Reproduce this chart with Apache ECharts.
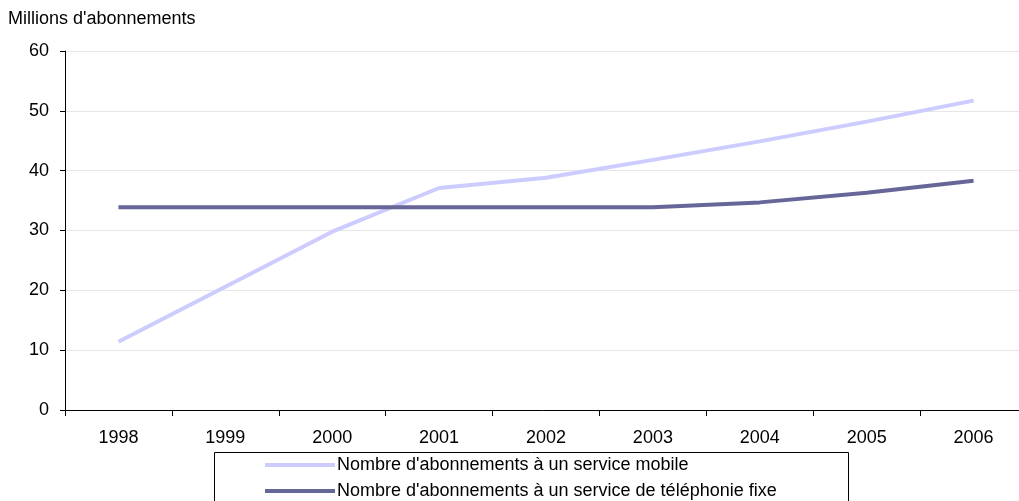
<!DOCTYPE html>
<html><head><meta charset="utf-8">
<script src="https://cdn.jsdelivr.net/npm/echarts@6/dist/echarts.min.js"></script>
<style>html,body{margin:0;padding:0;background:#fff}#c{width:1019px;height:501px}</style>
</head><body><div id="c"></div>
<script>
const years = ['1998','1999','2000','2001','2002','2003','2004','2005','2006'];
const mobile = [11.4, 20.6, 29.8, 37.1, 38.8, 41.8, 44.9, 48.2, 51.7];
const fixe = [33.9, 33.9, 33.9, 33.9, 33.9, 33.9, 34.7, 36.3, 38.3];
const yTicks = [0, 10, 20, 30, 40, 50, 60];
const nameMobile = "Nombre d'abonnements à un service mobile";
const nameFixe = "Nombre d'abonnements à un service de téléphonie fixe";
const unitLabel = "Millions d'abonnements";

const font = 'Liberation Sans, Arial, sans-serif';
const chart = echarts.init(document.getElementById('c'), null, {renderer:'canvas'});
chart.setOption({
  animation: false,
  backgroundColor: '#fff',
  title: {text: unitLabel, left: 8, top: 10, padding: 0, textStyle: {fontFamily: font, fontSize: 18, fontWeight: 'normal', color: '#000'}},
  grid: {left: 65, top: 51, bottom: 91, width: 962, containLabel: false, outerBoundsMode: 'none'},
  xAxis: {
    type: 'category', data: years, boundaryGap: true,
    axisLine: {lineStyle: {color: '#000', width: 1}},
    axisTick: {show: true, length: 6, lineStyle: {color: '#000'}},
    axisLabel: {fontFamily: font, fontSize: 18, color: '#000', margin: 19, interval: 0},
    splitLine: {show: false}
  },
  yAxis: {
    type: 'value', min: yTicks[0], max: yTicks[yTicks.length-1], interval: 10,
    axisLine: {show: true, lineStyle: {color: '#000', width: 1}},
    axisTick: {show: true, length: 5, lineStyle: {color: '#000'}},
    axisLabel: {fontFamily: font, fontSize: 18, color: '#000', margin: 16},
    splitLine: {show: true, lineStyle: {color: '#e6e6e6', width: 1}}
  },
  legend: {
    orient: 'vertical', left: 265, top: 456, padding: 0, itemGap: 8,
    icon: 'rect', itemWidth: 70, itemHeight: 4,
    textStyle: {fontFamily: font, fontSize: 18, color: '#000', padding: [0,0,0,-3]},
    data: [nameMobile, nameFixe]
  },
  graphic: [{type: 'rect', left: 212, top: 450, shape: {width: 634, height: 60}, style: {fill: 'none', stroke: '#000', lineWidth: 1}, z: 0}],
  series: [
    {name: nameMobile, type: 'line', data: mobile, symbol: 'none', lineStyle: {color: '#ccccff', width: 4}, itemStyle: {color: '#ccccff'}},
    {name: nameFixe, type: 'line', data: fixe, symbol: 'none', lineStyle: {color: '#666699', width: 4}, itemStyle: {color: '#666699'}}
  ]
});
</script></body></html>
